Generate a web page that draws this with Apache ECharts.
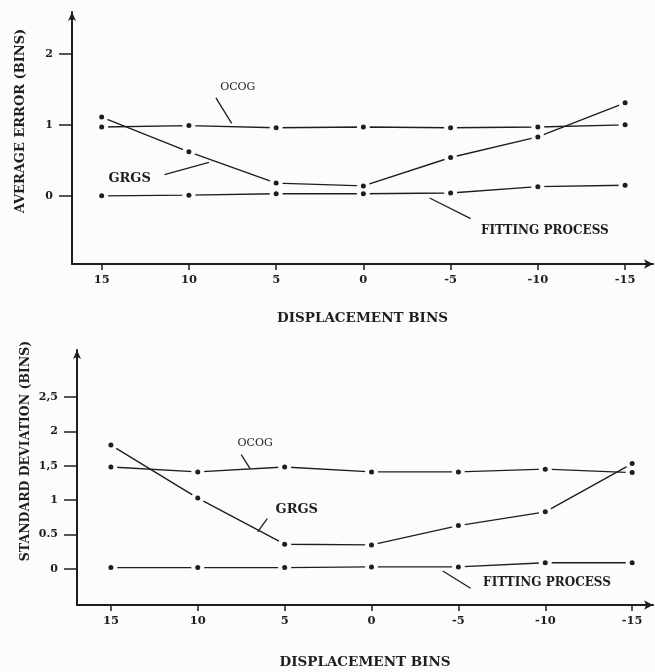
<!DOCTYPE html>
<html>
<head>
<meta charset="utf-8">
<script src="https://cdn.jsdelivr.net/npm/echarts@6/dist/echarts.min.js"></script>
<style>
  html, body { margin: 0; padding: 0; background: #fcfcfb; }
  #chart { width: 655px; height: 672px; }
</style>
</head>
<body>
<div id="chart"></div>
<script>
// Displacement (bins) at which each method was evaluated
const displacement = [15, 10, 5, 0, -5, -10, -15];

// Panel 1: average error (bins)
const avgOCOG    = [0.97, 0.99, 0.96, 0.97, 0.96, 0.97, 1.00];
const avgGRGS    = [1.11, 0.62, 0.18, 0.14, 0.54, 0.83, 1.31];
const avgFitting = [0.00, 0.01, 0.03, 0.03, 0.04, 0.13, 0.15];

// Panel 2: standard deviation (bins)
const sdOCOG    = [1.48, 1.41, 1.48, 1.41, 1.41, 1.45, 1.40];
const sdGRGS    = [1.80, 1.03, 0.36, 0.35, 0.63, 0.83, 1.53];
const sdFitting = [0.02, 0.02, 0.02, 0.03, 0.03, 0.09, 0.09];

// Tick values and their printed labels
const xTicks = [15, 10, 5, 0, -5, -10, -15];
const avgTicks = [0, 1, 2];
const avgTickLabels = ['0', '1', '2'];
const sdTicks = [0, 0.5, 1, 1.5, 2, 2.5];
const sdTickLabels = ['0', '0.5', '1', '1,5', '2', '2,5'];

// Curve labels with their leader lines, in data units [x, y]
const avgNotes = {
  OCOG:    { text: 'OCOG', at: [7.2, 1.53], from: [8.45, 1.38], to: [7.55, 1.02] },
  GRGS:    { text: 'GRGS', at: [13.4, 0.24], from: [11.4, 0.30], to: [8.85, 0.47] },
  FITTING: { text: 'FITTING PROCESS', at: [-10.4, -0.49], from: [-3.8, -0.03], to: [-6.15, -0.32] }
};
const sdNotes = {
  OCOG:    { text: 'OCOG', at: [6.7, 1.83], from: [7.5, 1.66], to: [7.0, 1.46] },
  GRGS:    { text: 'GRGS', at: [4.3, 0.86], from: [6.0, 0.73], to: [6.55, 0.54] },
  FITTING: { text: 'FITTING PROCESS', at: [-10.1, -0.2], from: [-4.1, -0.03], to: [-5.7, -0.28] }
};

const INK = '#1e1e1e';
const PAPER = '#fcfcfb';
const SERIF = '"DejaVu Serif", "Liberation Serif", serif';

function pairs(ys) { return displacement.map((x, i) => [x, ys[i]]); }

// One curve = leader-line annotated line + paper-coloured halo + dot
function curve(name, ys, gridIdx, note, fontSize, bold) {
  const data = pairs(ys);
  return [
    {
      name: name, type: 'line', xAxisIndex: gridIdx, yAxisIndex: gridIdx,
      data: data, showSymbol: false, z: 2, silent: true,
      lineStyle: { color: INK, width: 1.4 },
      markLine: {
        silent: true, symbol: 'none', animation: false,
        lineStyle: { color: INK, width: 1.3, type: 'solid' },
        label: { show: false },
        data: [[{ coord: note.from }, { coord: note.to }]]
      },
      markPoint: {
        silent: true, symbol: 'circle', symbolSize: 0, animation: false,
        label: {
          show: true, position: 'inside', formatter: note.text,
          color: INK, fontFamily: SERIF, fontSize: fontSize,
          fontWeight: bold ? 'bold' : 'normal'
        },
        data: [{ coord: note.at }]
      }
    },
    {
      type: 'scatter', xAxisIndex: gridIdx, yAxisIndex: gridIdx,
      data: data, symbol: 'circle', symbolSize: 13, z: 3, silent: true,
      itemStyle: { color: PAPER, opacity: 1 }
    },
    {
      type: 'scatter', xAxisIndex: gridIdx, yAxisIndex: gridIdx,
      data: data, symbol: 'circle', symbolSize: 5, z: 4, silent: true,
      itemStyle: { color: INK, opacity: 1 }
    }
  ];
}

function xAxisFor(gridIdx, min, max, gap) {
  return {
    type: 'value', gridIndex: gridIdx, inverse: true, min: min, max: max,
    name: 'DISPLACEMENT BINS', nameLocation: 'middle', nameGap: gap,
    nameTextStyle: { color: INK, fontFamily: SERIF, fontSize: 13.5, fontWeight: 'bold' },
    splitLine: { show: false },
    axisLine: { show: true, onZero: false, lineStyle: { color: INK, width: 2 },
                symbol: ['none', 'arrow'], symbolSize: [7, 9] },
    axisTick: { show: true, length: 6, customValues: xTicks,
                lineStyle: { color: INK, width: 1.5 } },
    axisLabel: { show: true, customValues: xTicks, margin: 10,
                 color: INK, fontFamily: SERIF, fontSize: 11.5, fontWeight: 'bold',
                 formatter: v => String(v) }
  };
}

function yAxisFor(gridIdx, min, max, ticks, labels) {
  return {
    type: 'value', gridIndex: gridIdx, min: min, max: max,
    splitLine: { show: false },
    axisLine: { show: true, onZero: false, lineStyle: { color: INK, width: 2 },
                symbol: ['none', 'arrow'], symbolSize: [6, 9] },
    axisTick: { show: true, length: 13, customValues: ticks,
                lineStyle: { color: INK, width: 1.5 } },
    axisLabel: { show: true, customValues: ticks, margin: 19,
                 color: INK, fontFamily: SERIF, fontSize: 11, fontWeight: 'bold',
                 formatter: v => labels[ticks.indexOf(v)] }
  };
}

const chart = echarts.init(document.getElementById('chart'));
chart.setOption({
  backgroundColor: PAPER,
  animation: false,
  grid: [
    { left: 72, width: 581, top: 12, height: 252 },
    { left: 77, width: 576, top: 350, height: 255 }
  ],
  xAxis: [
    xAxisFor(0, -16.6, 16.7, 47),
    xAxisFor(1, -16.2, 16.95, 50)
  ],
  yAxis: [
    yAxisFor(0, -0.96, 2.59, avgTicks, avgTickLabels),
    yAxisFor(1, -0.523, 3.18, sdTicks, sdTickLabels)
  ],
  graphic: [
    { type: 'text', x: 21, y: 121, rotation: Math.PI / 2,
      style: { text: 'AVERAGE ERROR (BINS)', fill: INK, font: 'bold 13px ' + SERIF,
               align: 'center', verticalAlign: 'middle' } },
    { type: 'text', x: 26, y: 451, rotation: Math.PI / 2,
      style: { text: 'STANDARD DEVIATION (BINS)', fill: INK, font: 'bold 12.5px ' + SERIF,
               align: 'center', verticalAlign: 'middle' } }
  ],
  series: [].concat(
    curve('OCOG', avgOCOG, 0, avgNotes.OCOG, 11, false),
    curve('GRGS', avgGRGS, 0, avgNotes.GRGS, 13, true),
    curve('FITTING PROCESS', avgFitting, 0, avgNotes.FITTING, 12, true),
    curve('OCOG', sdOCOG, 1, sdNotes.OCOG, 11, false),
    curve('GRGS', sdGRGS, 1, sdNotes.GRGS, 13, true),
    curve('FITTING PROCESS', sdFitting, 1, sdNotes.FITTING, 12, true)
  )
});
</script>
</body>
</html>
